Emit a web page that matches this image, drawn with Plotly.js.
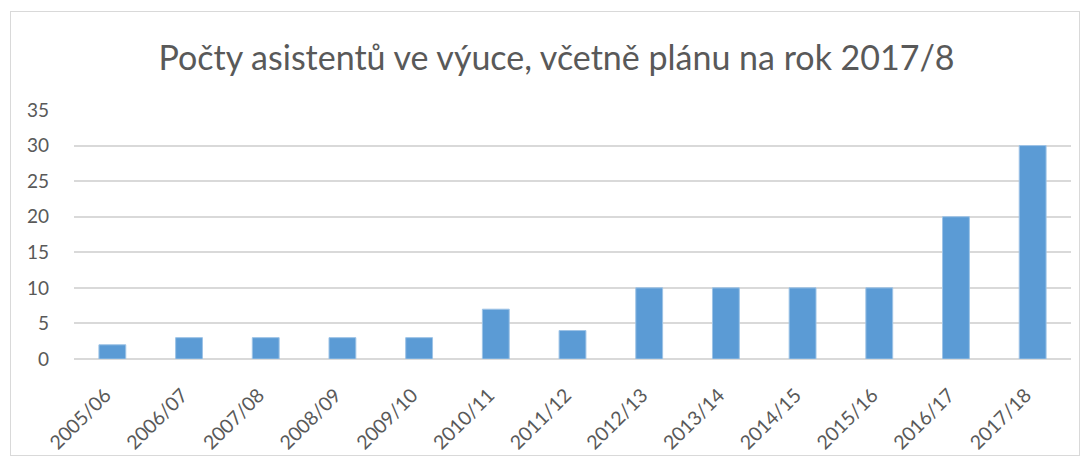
<!DOCTYPE html>
<html><head><meta charset="utf-8">
<script src="https://cdn.plot.ly/plotly-3.0.1.min.js"></script>
<style>html,body{margin:0;padding:0;background:#fff;}#wrap{position:relative;width:1087px;height:464px;}#frame{position:absolute;left:10px;top:11px;width:1068px;height:443px;border:1px solid #d9d9d9;pointer-events:none;}</style>
</head><body>
<div id="wrap"><div id="chart" style="width:1087px;height:464px;"></div><div id="frame"></div></div>
<script>
const categories = ["2005/06","2006/07","2007/08","2008/09","2009/10","2010/11","2011/12","2012/13","2013/14","2014/15","2015/16","2016/17","2017/18"];
const values = [2,3,3,3,3,7,4,10,10,10,10,20,30];
const yTicks = [0,5,10,15,20,25,30,35];
const titleText = "Počty asistentů ve výuce, včetně plánu na rok 2017/8";
const fontFam = "Lato, 'Open Sans', sans-serif";
Plotly.newPlot("chart", [{
  type: "bar", x: categories, y: values,
  marker: {color: "#5b9bd5", line: {color: "#9dc3e6", width: 1}},
  hoverinfo: "x+y"
}], {
  width: 1087, height: 464,
  margin: {l: 74, r: 16, t: 110, b: 105},
  paper_bgcolor: "rgba(0,0,0,0)", plot_bgcolor: "#fff",
  title: {text: titleText, font: {family: fontFam, size: 34, color: "#595959"}, x: 0.512, xanchor: "center", y: 0.875, yanchor: "middle"},
  bargap: 0.65,
  xaxis: {tickangle: -45, tickfont: {family: fontFam, size: 19.5, color: "#595959"}, showgrid: false, showline: false, ticks: "", ticklabelstandoff: 20, ticklabelshift: -7, fixedrange: true},
  yaxis: {range: [0, 35], tickvals: yTicks, ticktext: yTicks.map(String), tickfont: {family: fontFam, size: 19, color: "#595959"},
    gridcolor: "#d9d9d9", gridwidth: 2, zeroline: true, zerolinecolor: "#d9d9d9", zerolinewidth: 2, showline: false, ticks: "", ticklabelstandoff: 24, fixedrange: true},
  showlegend: false
}, {displayModeBar: false, staticPlot: true});
</script>
</body></html>
